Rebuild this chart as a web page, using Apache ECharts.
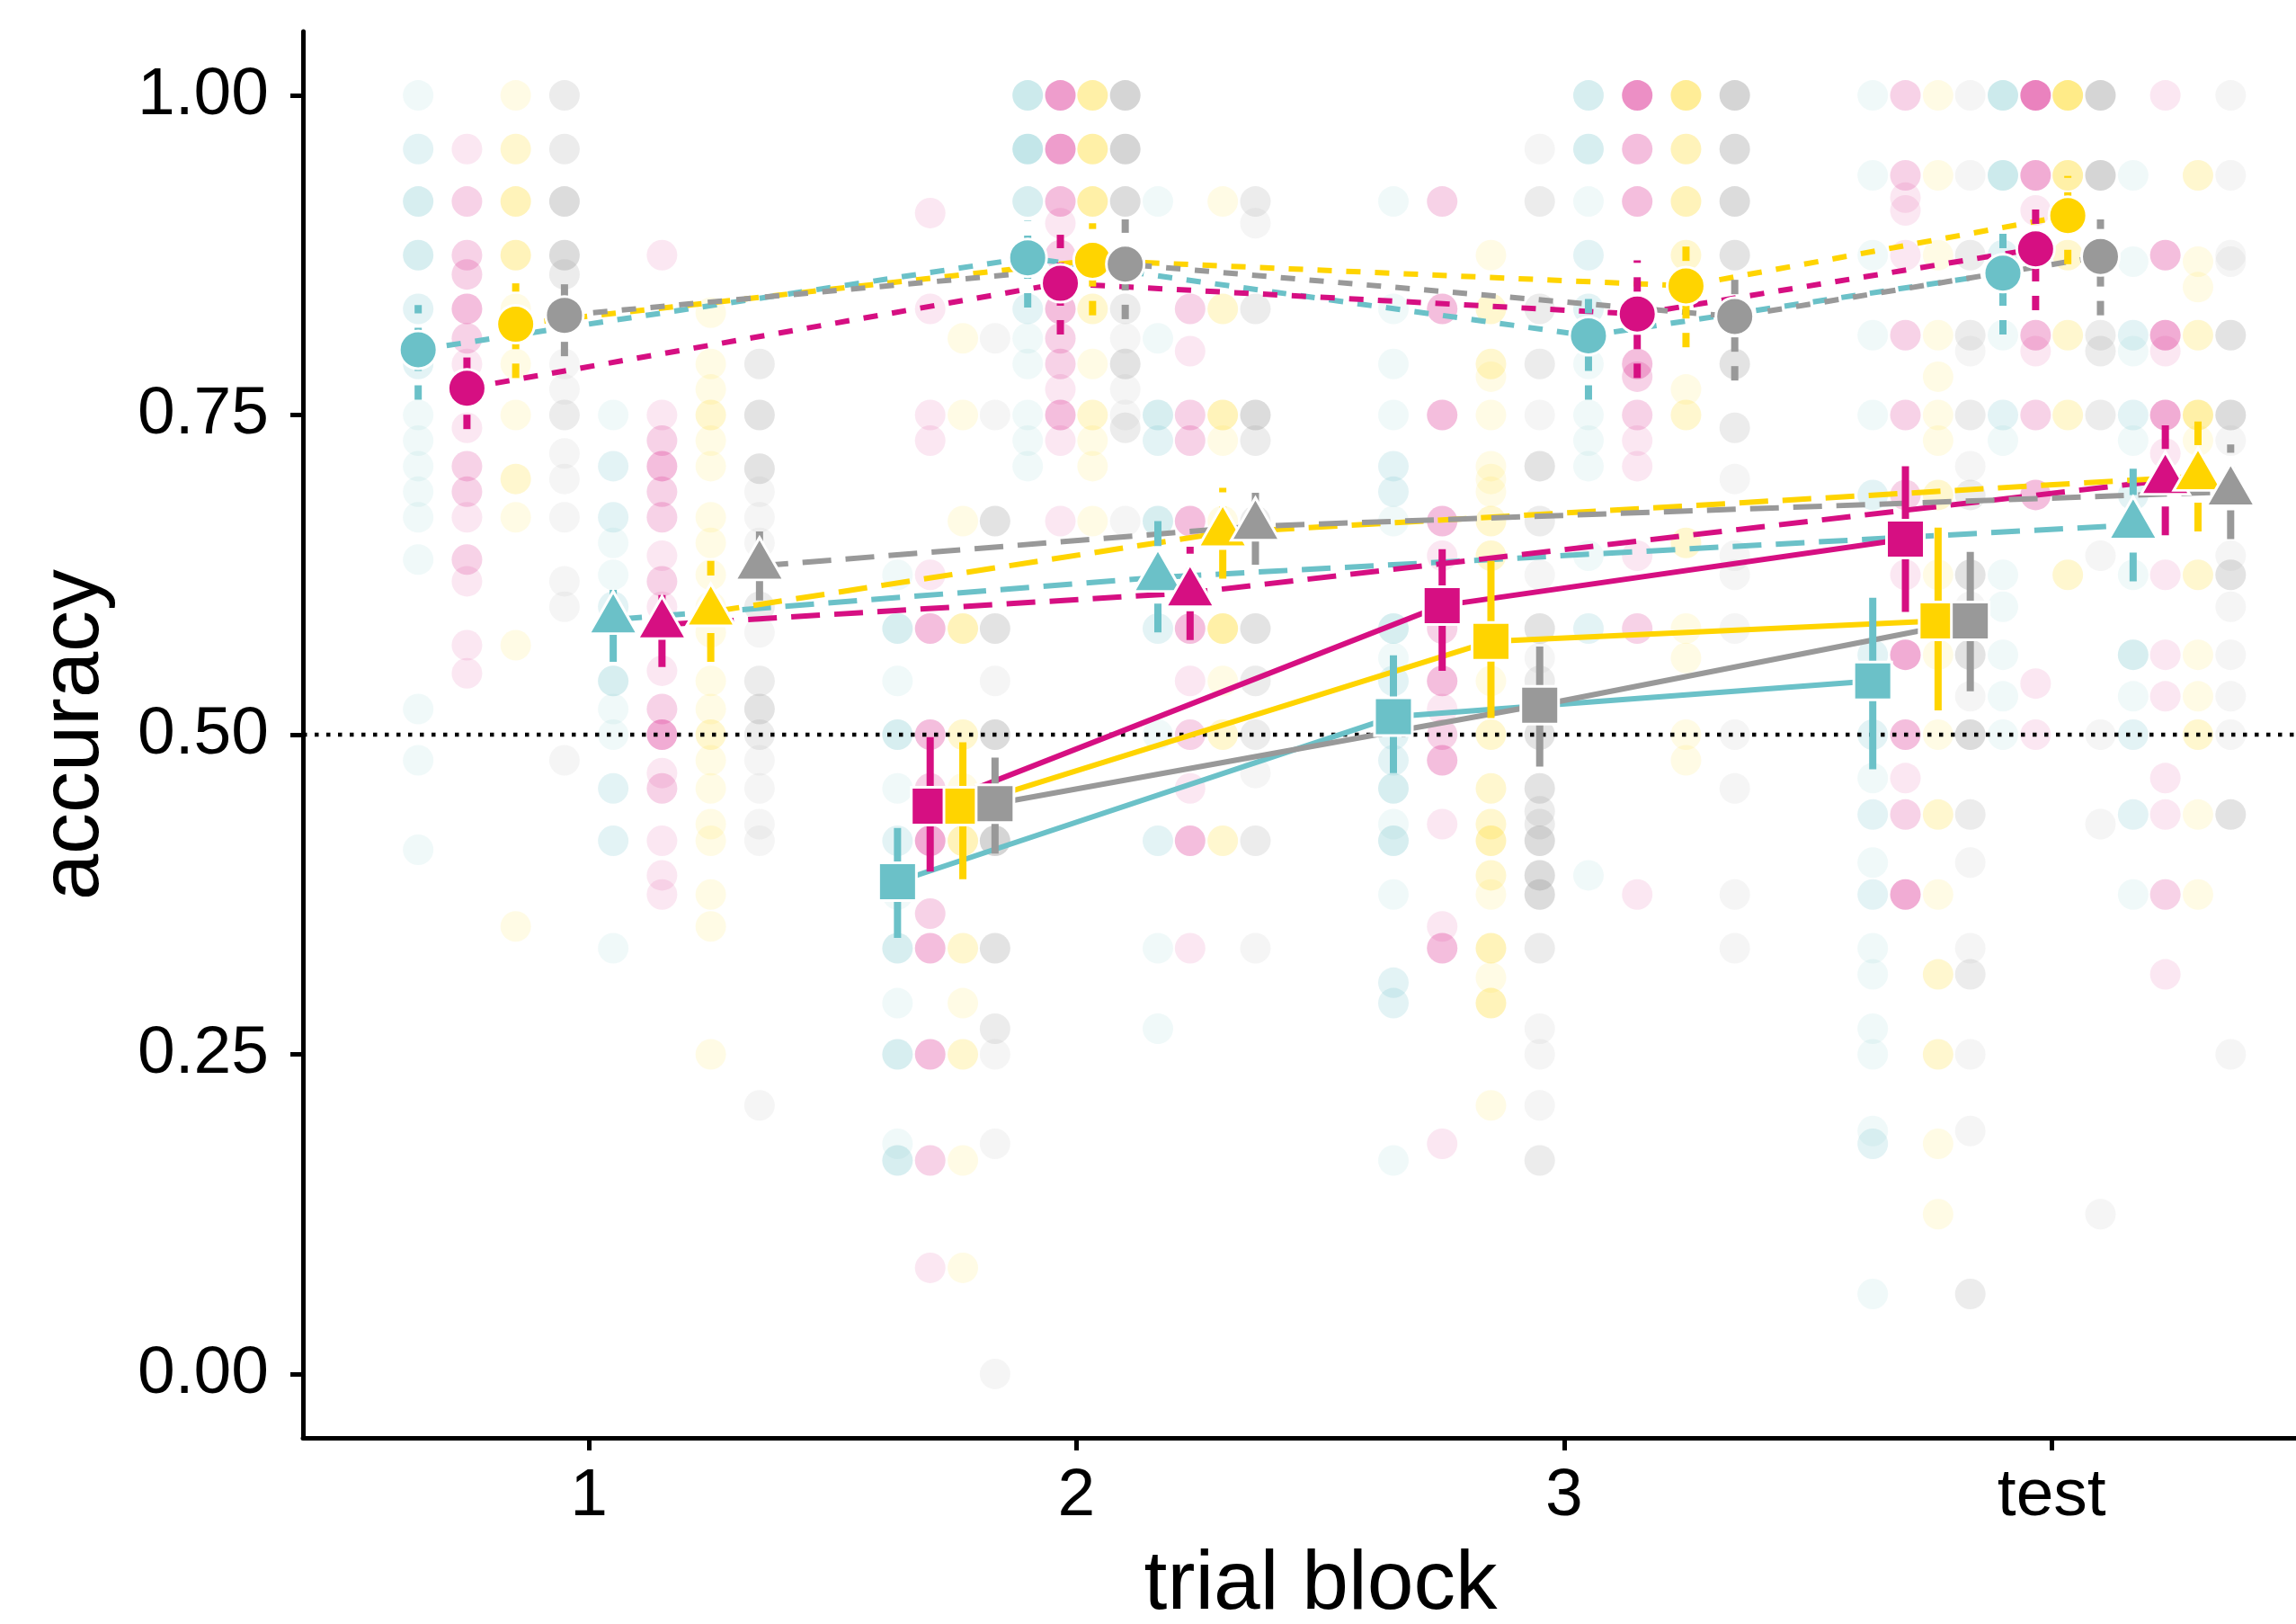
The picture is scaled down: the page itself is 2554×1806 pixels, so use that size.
<!DOCTYPE html>
<html>
<head>
<meta charset="utf-8">
<script src="https://cdn.jsdelivr.net/npm/echarts@6/dist/echarts.min.js"></script>
<style>
html,body{margin:0;padding:0;background:#fff;}
#chart{width:2554px;height:1806px;}
</style>
</head>
<body>
<div id="chart"></div>
<script>
// ---------- data ----------
const blockLabels = ['1', '2', '3', 'test'];
const blockTicks = [1, 2, 3, 4];
const yTicks = [0, 0.25, 0.5, 0.75, 1];
const chanceLevel = 0.5;
const palette = ['#6BC1C8', '#D60F82', '#FFD400', '#999999']; // teal, magenta, yellow, gray

// circles (dotted), blocks 1,2,3,test
const circX = [[0.65, 1.9, 3.05, 3.9], [0.75, 1.967, 3.15, 3.967], [0.85, 2.033, 3.25, 4.033], [0.95, 2.1, 3.35, 4.1]];
const circMean = [[0.801, 0.873, 0.812, 0.861], [0.771, 0.853, 0.829, 0.880], [0.821, 0.871, 0.851, 0.906], [0.828, 0.868, 0.827, 0.874]];
const circLo = [[0.762, 0.834, 0.762, 0.813], [0.739, 0.813, 0.779, 0.832], [0.779, 0.828, 0.803, 0.868], [0.796, 0.825, 0.777, 0.828]];
const circHi = [[0.836, 0.902, 0.850, 0.903], [0.795, 0.891, 0.871, 0.922], [0.853, 0.900, 0.891, 0.937], [0.860, 0.903, 0.867, 0.903]];

// triangles (dashed), blocks 1,2,test
const triX = [[1.05, 2.167, 4.167], [1.15, 2.233, 4.233], [1.25, 2.3, 4.3], [1.35, 2.367, 4.367]];
const triMean = [[0.590, 0.623, 0.664], [0.586, 0.611, 0.699], [0.596, 0.658, 0.702], [0.632, 0.663, 0.690]];
const triLo = [[0.557, 0.580, 0.620], [0.553, 0.574, 0.656], [0.557, 0.622, 0.659], [0.605, 0.633, 0.653]];
const triHi = [[0.624, 0.667, 0.708], [0.619, 0.647, 0.742], [0.636, 0.693, 0.745], [0.659, 0.693, 0.727]];

// squares (solid), blocks 2,3,test
const sqX = [[1.633, 2.65, 3.633], [1.7, 2.75, 3.7], [1.767, 2.85, 3.767], [1.833, 2.95, 3.833]];
const sqMean = [[0.385, 0.514, 0.542], [0.444, 0.601, 0.653], [0.444, 0.573, 0.589], [0.446, 0.523, 0.589]];
const sqLo = [[0.341, 0.470, 0.473], [0.393, 0.550, 0.596], [0.387, 0.513, 0.519], [0.407, 0.475, 0.534]];
const sqHi = [[0.427, 0.562, 0.607], [0.498, 0.645, 0.710], [0.494, 0.636, 0.662], [0.482, 0.569, 0.643]];

// individual accuracies: [value, number of participants at that value]
const circFaint = [
  [
    [[1,1],[0.958,2],[0.917,3],[0.875,3],[0.833,2],[0.79,2],[0.75,1],[0.73,1],[0.71,1],[0.69,1],[0.67,1],[0.637,1],[0.52,1],[0.48,1],[0.41,1]],
    [[1,4],[0.958,5],[0.917,3],[0.833,2],[0.81,1],[0.79,1],[0.75,1],[0.73,1],[0.71,1]],
    [[1,3],[0.958,3],[0.917,1],[0.875,2],[0.833,2],[0.79,1],[0.75,1],[0.73,1],[0.71,1],[0.64,1],[0.583,2],[0.39,1]],
    [[1,4],[0.9375,4],[0.875,2],[0.8125,1],[0.75,2],[0.73,1],[0.625,1],[0.6,1],[0.5625,1],[0.53,1],[0.5,1]]
  ],
  [
    [[0.958,1],[0.917,2],[0.875,2],[0.86,2],[0.833,3],[0.81,2],[0.79,1],[0.74,1],[0.71,2],[0.69,2],[0.67,1],[0.637,2],[0.62,1],[0.57,1],[0.548,1]],
    [[1,5],[0.958,5],[0.917,3],[0.9,1],[0.875,2],[0.833,3],[0.81,2],[0.79,2],[0.77,1],[0.75,3],[0.73,1],[0.667,1]],
    [[1,6],[0.958,3],[0.917,3],[0.79,3],[0.78,2],[0.75,2],[0.73,1],[0.71,1],[0.64,1],[0.583,2],[0.375,1]],
    [[1,7],[0.9375,4],[0.91,1],[0.8125,3],[0.8,1],[0.75,2],[0.6875,3],[0.54,1],[0.5,1]]
  ],
  [
    [[1,1],[0.958,2],[0.917,3],[0.875,3],[0.833,1],[0.79,1],[0.75,1],[0.7,2],[0.67,1],[0.57,1],[0.35,1]],
    [[1,4],[0.958,4],[0.917,4],[0.833,2],[0.79,1],[0.75,2],[0.73,1],[0.71,1],[0.667,1]],
    [[1,5],[0.958,3],[0.917,3],[0.875,2],[0.77,1],[0.75,2],[0.65,2],[0.583,1],[0.56,1],[0.5,1],[0.48,1]],
    [[1,6],[0.9375,4],[0.875,2],[0.8125,2],[0.75,2],[0.625,2]]
  ],
  [
    [[1,2],[0.958,2],[0.917,4],[0.875,4],[0.86,2],[0.79,1],[0.77,1],[0.75,2],[0.72,1],[0.7,1],[0.67,1],[0.62,1],[0.6,1],[0.48,1]],
    [[1,5],[0.958,5],[0.917,4],[0.833,2],[0.81,1],[0.79,3],[0.77,1],[0.75,1],[0.74,2],[0.667,1]],
    [[1,5],[0.958,4],[0.917,4],[0.875,3],[0.79,3],[0.74,2],[0.7,1],[0.64,1],[0.625,1],[0.583,1],[0.5,1],[0.458,1],[0.375,1],[0.333,1]],
    [[1,5],[0.9375,5],[0.8125,2],[0.8,2],[0.75,2],[0.64,1],[0.5,1],[0.43,1],[0.125,1]]
  ]
];
const triFaint = [
  [
    [[0.75,1],[0.71,2],[0.67,2],[0.65,1],[0.625,1],[0.6,2],[0.542,3],[0.52,1],[0.5,1],[0.458,2],[0.417,2],[0.333,1]],
    [[0.917,1],[0.81,1],[0.75,3],[0.73,2],[0.667,3],[0.583,2],[0.5,1],[0.417,2],[0.333,1],[0.27,1]],
    [[0.9375,1],[0.87,1],[0.8125,2],[0.8,1],[0.75,2],[0.73,1],[0.6875,2],[0.625,1],[0.5625,3],[0.53,1],[0.5,2],[0.4375,2],[0.375,1]]
  ],
  [
    [[0.875,1],[0.75,1],[0.73,2],[0.71,3],[0.69,2],[0.67,2],[0.64,1],[0.62,2],[0.6,1],[0.55,1],[0.52,2],[0.5,4],[0.47,1],[0.458,2],[0.417,1],[0.39,1],[0.375,1]],
    [[0.833,2],[0.8,1],[0.75,2],[0.73,2],[0.667,3],[0.583,3],[0.542,1],[0.5,2],[0.458,1],[0.417,3],[0.333,1]],
    [[1,1],[0.875,3],[0.8125,4],[0.8,1],[0.75,4],[0.72,1],[0.625,1],[0.5625,1],[0.53,1],[0.466,1],[0.4375,1],[0.375,2],[0.3125,1]]
  ],
  [
    [[0.83,1],[0.79,1],[0.77,1],[0.75,2],[0.73,1],[0.71,1],[0.67,1],[0.65,1],[0.625,1],[0.6,1],[0.58,1],[0.542,1],[0.52,1],[0.5,2],[0.48,1],[0.458,1],[0.43,1],[0.417,1],[0.375,1],[0.35,1],[0.25,1]],
    [[0.917,1],[0.833,2],[0.75,3],[0.73,1],[0.667,1],[0.583,4],[0.542,1],[0.5,2],[0.417,2]],
    [[0.9375,2],[0.87,1],[0.85,1],[0.8125,2],[0.75,4],[0.73,1],[0.625,2],[0.5625,1],[0.53,1],[0.5,2],[0.4375,1],[0.375,1]]
  ],
  [
    [[0.79,2],[0.75,3],[0.708,3],[0.69,1],[0.67,1],[0.65,1],[0.6,2],[0.58,1],[0.542,2],[0.52,3],[0.5,2],[0.48,1],[0.458,1],[0.43,1],[0.417,1],[0.21,1]],
    [[0.917,2],[0.9,1],[0.833,2],[0.75,4],[0.73,2],[0.667,2],[0.583,3],[0.542,2],[0.5,2],[0.47,1],[0.417,2],[0.333,1]],
    [[1,1],[0.9375,1],[0.875,1],[0.87,1],[0.8125,3],[0.75,4],[0.73,1],[0.64,1],[0.625,3],[0.6,1],[0.5625,1],[0.53,1],[0.5,1],[0.4375,3],[0.25,1]]
  ]
];
const sqFaint = [
  [
    [[0.625,1],[0.583,3],[0.542,1],[0.5,3],[0.458,1],[0.417,2],[0.375,1],[0.333,3],[0.29,1],[0.25,3],[0.18,1],[0.167,3]],
    [[0.917,1],[0.833,1],[0.79,1],[0.75,1],[0.71,2],[0.69,2],[0.667,1],[0.583,3],[0.56,1],[0.542,2],[0.5,2],[0.48,2],[0.458,3],[0.43,1],[0.417,3],[0.375,1],[0.306,2],[0.29,2],[0.167,1]],
    [[1,1],[0.9375,1],[0.875,1],[0.8125,1],[0.75,1],[0.6875,2],[0.5625,2],[0.5,2],[0.466,1],[0.4375,2],[0.4,1],[0.375,2],[0.333,1],[0.3125,1],[0.27,1],[0.25,1],[0.19,1],[0.18,2],[0.0625,1]]
  ],
  [
    [[0.908,1],[0.833,1],[0.75,1],[0.73,1],[0.625,1],[0.583,3],[0.5,3],[0.458,2],[0.417,4],[0.36,2],[0.333,3],[0.25,3],[0.167,2],[0.083,1]],
    [[0.917,2],[0.833,3],[0.75,3],[0.667,3],[0.64,1],[0.583,2],[0.542,3],[0.52,1],[0.5,2],[0.48,3],[0.43,1],[0.35,1],[0.333,3],[0.18,1]],
    [[1,2],[0.9375,2],[0.92,1],[0.91,1],[0.875,1],[0.8125,2],[0.75,2],[0.6875,2],[0.625,1],[0.5625,4],[0.5,3],[0.466,1],[0.4375,2],[0.375,4]]
  ],
  [
    [[0.81,1],[0.75,1],[0.667,1],[0.583,3],[0.5,2],[0.458,1],[0.417,3],[0.333,2],[0.29,1],[0.25,2],[0.167,1],[0.083,1]],
    [[0.875,1],[0.833,2],[0.79,2],[0.78,1],[0.75,1],[0.71,1],[0.7,1],[0.69,1],[0.667,2],[0.64,2],[0.542,1],[0.5,2],[0.458,2],[0.43,2],[0.417,3],[0.39,2],[0.375,1],[0.333,3],[0.31,1],[0.29,3],[0.21,1]],
    [[1,1],[0.9375,1],[0.875,1],[0.8125,1],[0.78,1],[0.75,1],[0.73,1],[0.6875,2],[0.625,1],[0.5625,1],[0.5,1],[0.4375,2],[0.375,1],[0.3125,2],[0.25,2],[0.18,1],[0.125,1]]
  ],
  [
    [[0.81,1],[0.75,1],[0.667,3],[0.583,3],[0.542,1],[0.5,4],[0.417,5],[0.333,3],[0.27,2],[0.25,1],[0.18,1],[0,1]],
    [[0.958,1],[0.917,2],[0.833,2],[0.79,2],[0.75,1],[0.71,3],[0.667,2],[0.625,1],[0.583,3],[0.56,1],[0.542,2],[0.5,3],[0.458,3],[0.44,2],[0.43,2],[0.417,4],[0.39,4],[0.375,4],[0.333,2],[0.27,1],[0.25,1],[0.21,1],[0.167,2]],
    [[1,1],[0.9375,1],[0.875,2],[0.8125,2],[0.8,1],[0.75,2],[0.71,1],[0.6875,2],[0.625,3],[0.6,1],[0.5625,3],[0.53,1],[0.5,4],[0.4375,2],[0.4,1],[0.333,1],[0.3125,2],[0.25,1],[0.19,1],[0.0625,2]]
  ]
];

// ---------- styling ----------
const FONT = '"Liberation Sans", Arial, sans-serif';
const X_MIN = 0.4137, X_MAX = 4.501;
const groups = [
  { x: circX, mean: circMean, lo: circLo, hi: circHi, faint: circFaint,
    symbol: 'circle', size: 42, offset: [0, 0], dash: [16, 16] },
  { x: triX, mean: triMean, lo: triLo, hi: triHi, faint: triFaint,
    symbol: 'triangle', size: [54, 47], offset: [0, -8], dash: [32, 16] },
  { x: sqX, mean: sqMean, lo: sqLo, hi: sqHi, faint: sqFaint,
    symbol: 'rect', size: 42, offset: [0, 0], dash: 'solid' }
];
const baseAlpha = 0.1;
const alphaFor = n => 1 - Math.pow(1 - baseAlpha, n);

const series = [];

// individual points
const faintData = [];
groups.forEach(g => {
  g.faint.forEach((cols, c) => {
    cols.forEach((pts, b) => {
      pts.forEach(([y, n]) => {
        faintData.push({ value: [g.x[c][b], y], itemStyle: { color: palette[c], opacity: alphaFor(n) } });
      });
    });
  });
});
series.push({
  type: 'scatter', data: faintData, symbol: 'circle', symbolSize: 34,
  silent: true, z: 1
});

// chance line
series.push({
  type: 'line', data: [[X_MIN, chanceLevel], [X_MAX, chanceLevel]], showSymbol: false, symbol: 'none',
  lineStyle: { color: '#000', width: 4.5, type: [4.5, 8.5] }, silent: true, z: 2
});

// mean lines
groups.forEach(g => {
  for (let c = 0; c < 4; c++) {
    series.push({
      type: 'line', data: g.x[c].map((x, i) => [x, g.mean[c][i]]), symbol: 'none', showSymbol: false,
      lineStyle: { color: palette[c], width: 6, type: g.dash, cap: 'butt' }, silent: true, z: 3
    });
  }
});

// error bars
groups.forEach(g => {
  for (let c = 0; c < 4; c++) {
    const color = palette[c];
    const dash = g.dash === 'solid' ? null : g.dash;
    series.push({
      type: 'custom', silent: true, z: 4,
      data: g.x[c].map((x, i) => [x, g.lo[c][i], g.hi[c][i]]),
      encode: { x: 0, y: [1, 2] },
      renderItem: (params, api) => {
        const p1 = api.coord([api.value(0), api.value(1)]);
        const p2 = api.coord([api.value(0), api.value(2)]);
        return {
          type: 'line',
          shape: { x1: p1[0], y1: p1[1], x2: p2[0], y2: p2[1] },
          style: { stroke: color, lineWidth: 8, lineDash: dash, lineCap: 'butt' }
        };
      }
    });
  }
});

// mean markers
groups.forEach(g => {
  for (let c = 0; c < 4; c++) {
    series.push({
      type: 'scatter', data: g.x[c].map((x, i) => [x, g.mean[c][i]]),
      symbol: g.symbol, symbolSize: g.size, symbolOffset: g.offset,
      itemStyle: { color: palette[c], opacity: 1, borderColor: '#fff', borderWidth: 3 },
      silent: true, z: 5
    });
  }
});

const chart = echarts.init(document.getElementById('chart'), null, { renderer: 'canvas' });
chart.setOption({
  animation: false,
  backgroundColor: '#fff',
  grid: { left: 337, top: 35, right: 0, height: 1564, containLabel: false, outerBoundsMode: 'none' },
  xAxis: {
    type: 'value', min: X_MIN, max: X_MAX,
    name: 'trial block', nameLocation: 'middle', nameGap: 118,
    nameTextStyle: { fontFamily: FONT, fontSize: 93, color: '#000', padding: [0, 0, 0, 47] },
    axisLine: { show: true, onZero: false, lineStyle: { color: '#000', width: 5 } },
    axisTick: { show: true, customValues: blockTicks, length: 14, lineStyle: { color: '#000', width: 5 } },
    axisLabel: { show: true, customValues: blockTicks, margin: 28, fontFamily: FONT, fontSize: 75, color: '#000',
      formatter: v => blockLabels[Math.round(v) - 1] },
    splitLine: { show: false }
  },
  yAxis: {
    type: 'value', min: -0.05, max: 1.05,
    name: 'accuracy', nameLocation: 'middle', nameGap: 207, nameRotate: 90,
    nameTextStyle: { fontFamily: FONT, fontSize: 92, color: '#000' },
    axisLine: { show: true, onZero: false, lineStyle: { color: '#000', width: 5 } },
    axisTick: { show: true, customValues: yTicks, length: 14, lineStyle: { color: '#000', width: 5 } },
    axisLabel: { show: true, customValues: yTicks, margin: 38, fontFamily: FONT, fontSize: 75, color: '#000',
      formatter: v => v.toFixed(2) },
    splitLine: { show: false }
  },
  series: series
});
</script>
</body>
</html>
